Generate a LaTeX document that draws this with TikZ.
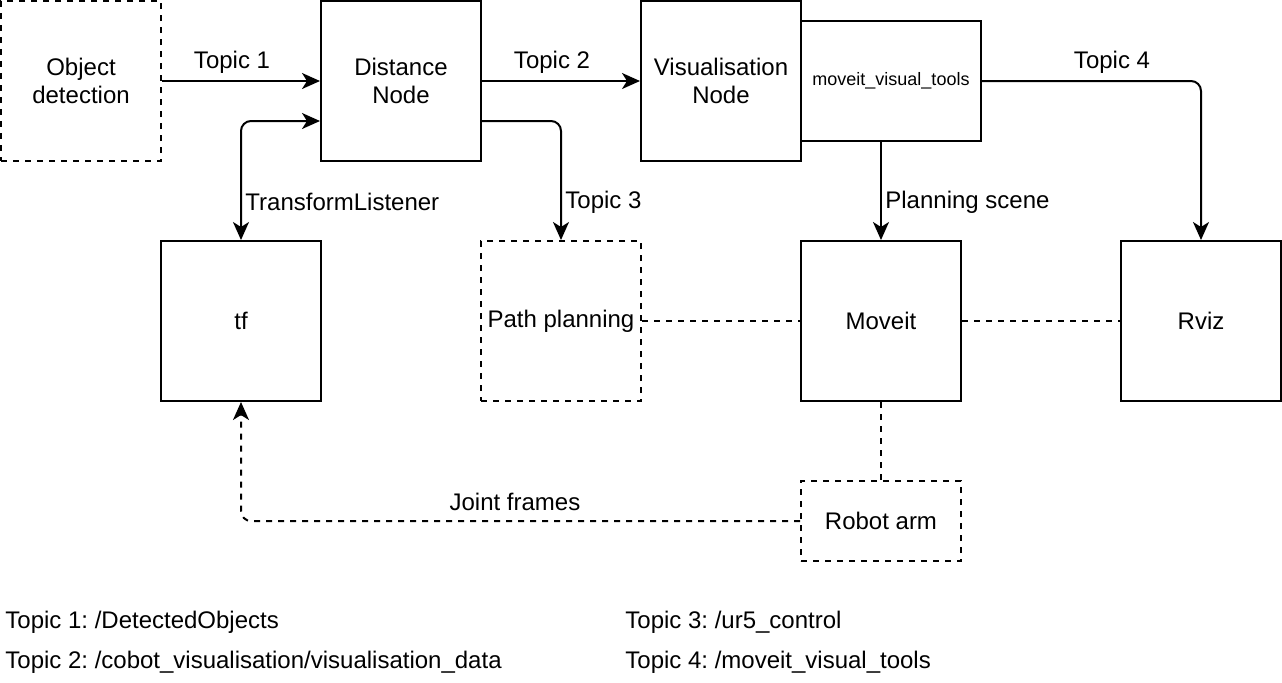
\documentclass[tikz,border=0pt]{standalone}
\usepackage{fontspec}
\setmainfont{Liberation Sans}
\usetikzlibrary{arrows.meta}
\frenchspacing
\begin{document}
\begin{tikzpicture}[x=0.5pt,y=-0.5pt,
  every node/.style={font=\fontsize{12pt}{14pt}\selectfont},
  box/.style={draw, line width=1pt, inner sep=0pt, minimum width=80pt, minimum height=80pt, align=center},
  dbox/.style={box, dash pattern=on 3pt off 3pt},
  lbl/.style={inner sep=0pt},
  conn/.style={line width=1pt, rounded corners=5pt},
  dconn/.style={conn, dash pattern=on 3pt off 3pt},
  tip/.style={-{Stealth[length=9pt,width=8pt,inset=2.5pt]}},
  tips/.style={{Stealth[length=9pt,width=8pt,inset=2.5pt]}-{Stealth[length=9pt,width=8pt,inset=2.5pt]}}
]
\useasboundingbox (0,0) rectangle (1282,682);
% boxes
\node[dbox] (od) at (81,81) {Object\\detection};
\node[box] (dist) at (401,81) {Distance\\Node};
\node[box] (vis) at (721,81) {Visualisation\\Node};
\node[box, minimum width=90pt, minimum height=60pt, font=\fontsize{9pt}{11pt}\selectfont] (mvt) at (891,81) {moveit\_visual\_tools};
\node[box] (tf) at (241,321) {tf};
\node[dbox] (pp) at (561,321) {Path planning};
\node[box] (moveit) at (881,321) {Moveit};
\node[box] (rviz) at (1201,321) {Rviz};
\node[dbox, minimum height=40pt] (arm) at (881,521) {Robot arm};
% connectors
\draw[conn, tip] (od.east) -- (dist.west);
\draw[conn, tip] (dist.east) -- (vis.west);
\draw[conn, tips] ([yshift=-20pt]dist.west) -| (tf.north);
\draw[conn, tip] ([yshift=-20pt]dist.east) -| (pp.north);
\draw[conn, tip] (mvt.south -| moveit.north) -- (moveit.north);
\draw[conn, tip] (mvt.east) -| (rviz.north);
\draw[dconn] (pp.east) -- (moveit.west);
\draw[dconn] (moveit.east) -- (rviz.west);
\draw[dconn] (moveit.south) -- (arm.north);
\draw[dconn, tip] (arm.west) -| (tf.south);
% labels
\node[lbl] (l1) at (232,62) {Topic 1};
\node[lbl] (l2) at (552,62) {Topic 2};
\node[lbl] (l4) at (1112,62) {Topic 4};
\node[lbl, anchor=west] (ltl) at (245,202) {TransformListener};
\node[lbl, anchor=west] (l3) at (565,202) {Topic 3};
\node[lbl, anchor=west] (lps) at (885,202) {Planning scene};
\node[lbl] (ljf) at (515,502) {Joint frames};
% legend
\node[lbl, anchor=west] (t1) at (5,622) {Topic 1: /DetectedObjects};
\node[lbl, anchor=west] (t2) at (5,662) {Topic 2: /cobot\_visualisation/visualisation\_data};
\node[lbl, anchor=west] (t3) at (625,622) {Topic 3: /ur5\_control};
\node[lbl, anchor=west] (t4) at (625,662) {Topic 4: /moveit\_visual\_tools};
\end{tikzpicture}
\end{document}
